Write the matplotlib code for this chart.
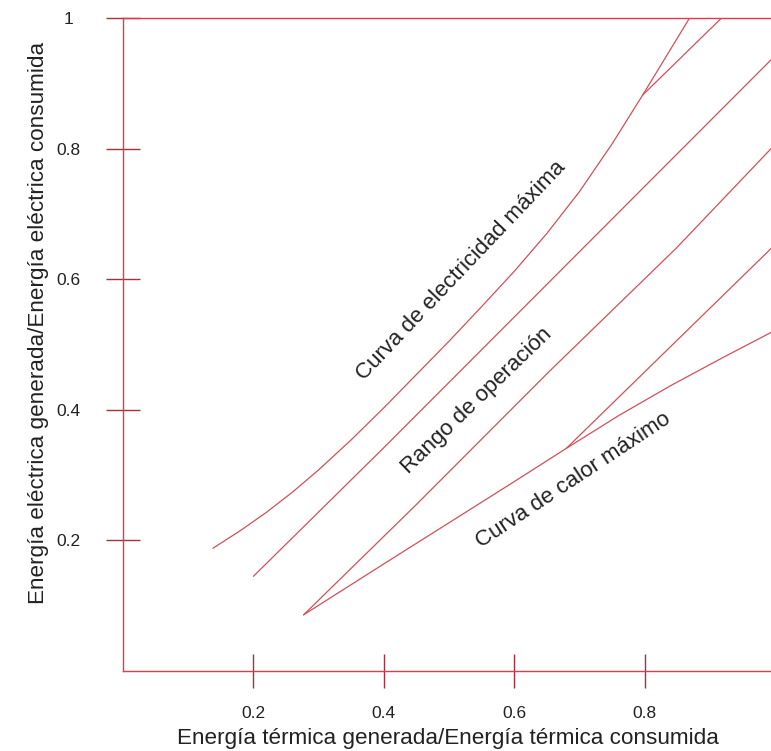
"""Rango de operación de un sistema de cogeneración (curvas de electricidad / calor máximo)."""
import matplotlib
matplotlib.use("Agg")
import matplotlib.pyplot as plt

plt.rcParams["font.family"] = ["Liberation Sans", "DejaVu Sans"]

# --- data ------------------------------------------------------------------
# curva de electricidad máxima (continúa como la rama más inclinada)
elec_x = [0.138, 0.18, 0.22, 0.26, 0.30, 0.35, 0.40, 0.45, 0.50, 0.55,
          0.60, 0.65, 0.70, 0.75, 0.797, 0.869]
elec_y = [0.188, 0.215, 0.243, 0.274, 0.308, 0.354, 0.403, 0.454, 0.505, 0.558,
          0.612, 0.670, 0.734, 0.807, 0.882, 1.0]
# rama que sale de la curva de electricidad máxima
elec_branch_x = [0.797, 0.918]
elec_branch_y = [0.882, 1.0]
# límite superior del rango de operación
upper_x = [0.200, 0.40, 0.60, 0.80, 0.995]
upper_y = [0.145, 0.342, 0.542, 0.742, 0.937]
# límite inferior del rango de operación
lower_x = [0.277, 0.45, 0.654, 0.849, 0.995]
lower_y = [0.086, 0.255, 0.459, 0.648, 0.801]
# curva de calor máximo
heat_x = [0.277, 0.40, 0.50, 0.60, 0.680, 0.76, 0.84, 0.92, 0.995]
heat_y = [0.086, 0.164, 0.227, 0.290, 0.341, 0.391, 0.437, 0.480, 0.519]
# rama que sale de la curva de calor máximo
heat_branch_x = [0.680, 0.995]
heat_branch_y = [0.341, 0.648]

xticks = [0.2, 0.4, 0.6, 0.8]
xticklabels = ["0.2", "0.4", "0.6", "0.8"]
yticks = [0.2, 0.4, 0.6, 0.8, 1.0]
yticklabels = ["0.2", "0.4", "0.6", "0.8", "1"]

# (text, x, y, rotation)
curve_labels = [
    ("Curva de electricidad máxima", 0.518, 0.613, 46.5),
    ("Rango de operación", 0.542, 0.414, 44),
    ("Curva de calor máximo", 0.691, 0.292, 33.5),
]

RED = "#e23a48"
LINE = "#d2505a"
TICK = "#a8303a"
TXT = "#222222"

fig = plt.figure(figsize=(7.71, 7.51), dpi=100)
ax = fig.add_axes([123 / 771, 80 / 751, 652 / 771, 653 / 751])

for xs, ys in [(elec_x, elec_y), (elec_branch_x, elec_branch_y),
               (upper_x, upper_y), (lower_x, lower_y),
               (heat_x, heat_y), (heat_branch_x, heat_branch_y)]:
    ax.plot(xs, ys, color=LINE, lw=0.9, solid_capstyle="round")

for text, x, y, rot in curve_labels:
    ax.text(x, y, text, rotation=rot, rotation_mode="anchor", ha="center",
            va="center", fontsize=16, color=TXT)

ax.set_xlim(0, 1)
ax.set_ylim(0, 1)
for side in ["left", "top", "bottom"]:
    ax.spines[side].set_color(RED)
    ax.spines[side].set_linewidth(1.0)
ax.spines["right"].set_visible(False)

ax.set_xticks(xticks, xticklabels)
ax.set_yticks(yticks, yticklabels)
ax.tick_params(axis="both", direction="inout", length=24, width=1.0,
               color=TICK, labelsize=12.5, labelcolor=TXT)
ax.tick_params(axis="x", pad=13)
ax.tick_params(axis="y", pad=27)
for lab in ax.get_yticklabels():
    lab.set_horizontalalignment("center")

ax.set_xlabel("Energía térmica generada/Energía térmica consumida",
              fontsize=16.2, color=TXT)
ax.set_ylabel("Energía eléctrica generada/Energía eléctrica consumida",
              fontsize=16.2, color=TXT)
ax.yaxis.set_label_coords(-0.114, 0.533)
ax.xaxis.set_label_coords(0.498, -0.088)

fig.savefig("out.png", dpi=100)
